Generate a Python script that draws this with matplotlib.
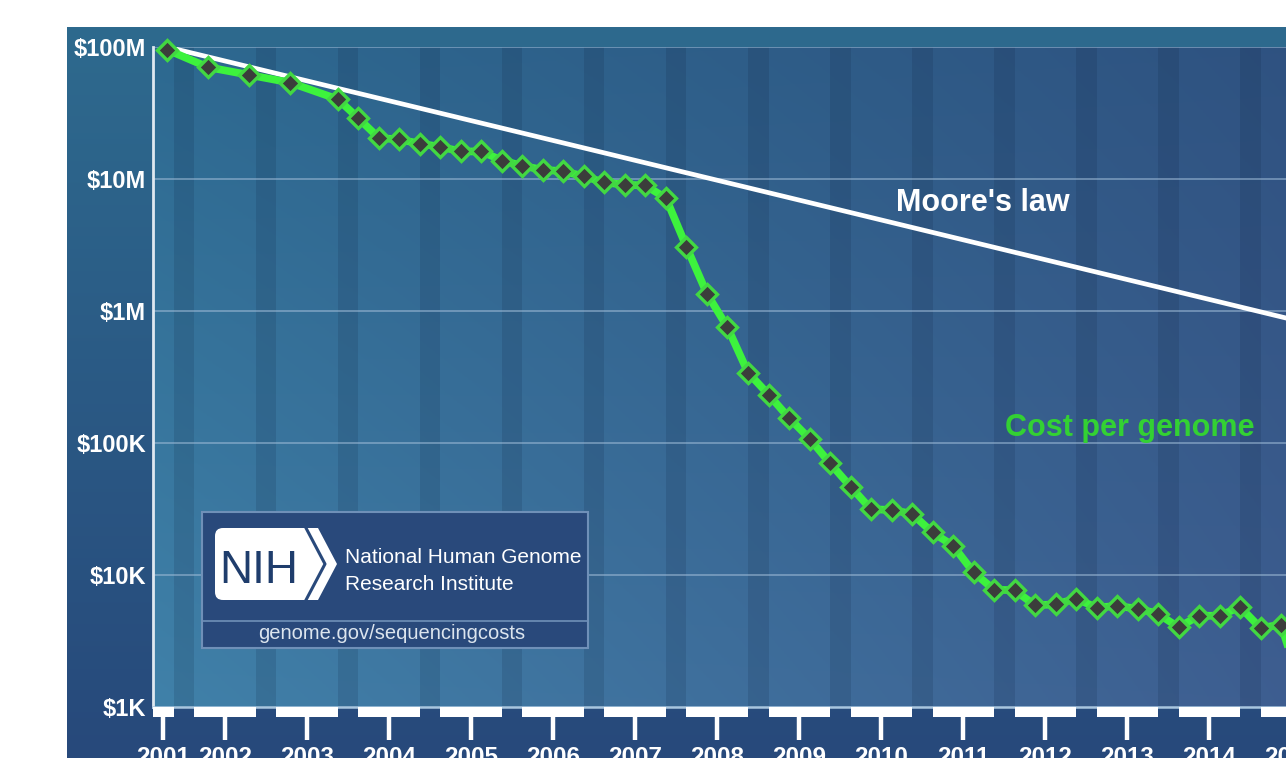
import numpy as np
import matplotlib.pyplot as plt
import matplotlib.transforms as mtransforms
from matplotlib.colors import to_rgb
from matplotlib.patches import Rectangle, Polygon, FancyBboxPatch
from matplotlib.ticker import NullLocator

plt.rcParams['font.family'] = ['Liberation Sans', 'DejaVu Sans']

W, H = 1286, 758

# cost per genome (USD), sampled Sep 2001 .. Oct 2015
dates = ['2001-09', '2002-03', '2002-09', '2003-03', '2003-10',
         '2004-01', '2004-04', '2004-07', '2004-10',
         '2005-01', '2005-04', '2005-07', '2005-10',
         '2006-01', '2006-04', '2006-07', '2006-10',
         '2007-01', '2007-04', '2007-07', '2007-10',
         '2008-01', '2008-04', '2008-07', '2008-10',
         '2009-01', '2009-04', '2009-07', '2009-10',
         '2010-01', '2010-04', '2010-07', '2010-10',
         '2011-01', '2011-04', '2011-07', '2011-10',
         '2012-01', '2012-04', '2012-07', '2012-10',
         '2013-01', '2013-04', '2013-07', '2013-10',
         '2014-01', '2014-04', '2014-07', '2014-10',
         '2015-01', '2015-04', '2015-07', '2015-10']
cost = [95.26e6, 70.18e6, 61.45e6, 53.75e6, 40.16e6,
        28.78e6, 20.44e6, 19.93e6, 18.52e6,
        17.53e6, 16.16e6, 16.18e6, 13.80e6,
        12.59e6, 11.73e6, 11.46e6, 10.47e6,
        9.41e6, 9.05e6, 8.93e6, 7.15e6,
        3.06e6, 1.35e6, 752e3, 342e3,
        233e3, 155e3, 108e3, 70.3e3,
        46.8e3, 31.5e3, 31.1e3, 29.1e3,
        21.0e3, 16.7e3, 10.5e3, 7.74e3,
        7.67e3, 5.90e3, 5.99e3, 6.62e3,
        5.67e3, 5.83e3, 5.55e3, 5.10e3,
        4.01e3, 4.92e3, 4.91e3, 5.73e3,
        3.97e3, 4.21e3, 1.36e3, 1.25e3]

# Moore's law reference line (end points)
moore_dates = ['2001-09', '2015-10']
moore_cost = [100e6, 0.76e6]

ytick_vals = [1e3, 1e4, 1e5, 1e6, 1e7, 1e8]
ytick_labels = ['$1K', '$10K', '$100K', '$1M', '$10M', '$100M']
years = list(range(2001, 2016))


def to_year(d):
    y, m = d.split('-')
    return int(y) + (int(m) - 1) / 12


x = [to_year(d) for d in dates]
moore_x = [to_year(d) for d in moore_dates]

fig = plt.figure(figsize=(W / 100, H / 100), dpi=100)
fig.patch.set_facecolor('white')


def rect(x0, y0, x1, y1):
    return [x0 / W, 1 - y1 / H, (x1 - x0) / W, (y1 - y0) / H]


# dark frame with a vertical gradient
frame = fig.add_axes(rect(67, 27, W, H))
frame.axis('off')
t = np.linspace(0, 1, 256)[:, None, None]
top, bot = np.array(to_rgb('#2e6a8e')), np.array(to_rgb('#27497b'))
frame.imshow(top * (1 - t) + bot * t, aspect='auto', extent=[0, 1, 0, 1])

# plot area: teal on the left, navy to the right, lighter at the bottom
x_left, x_right = 2001.494, 2016.006
area = rect(153, 47, 153 + 1190, 707)
grad = fig.add_axes(area)
grad.axis('off')
yy, xx = np.mgrid[0:1:200j, 0:1:400j]
xx, yy = xx[..., None], yy[..., None]
tl, tr = np.array(to_rgb('#2d6990')), np.array(to_rgb('#2f5180'))
bl, br = np.array(to_rgb('#4081a9')), np.array(to_rgb('#3e5c8f'))
img = tl * (1 - xx) * (1 - yy) + tr * xx * (1 - yy) + bl * (1 - xx) * yy + br * xx * yy
grad.imshow(img, aspect='auto', extent=[0, 1, 0, 1])

ax = fig.add_axes(area)
ax.patch.set_visible(False)
ax.set_yscale('log')
ax.set_xlim(x_left, x_right)
ax.set_ylim(1e3, 1e8)

# darker band over the last quarter of every year
for yr in years:
    ax.axvspan(yr + 0.75, yr + 1.0, color='#0b1d3a', alpha=0.14, lw=0, zorder=1)

for v in ytick_vals[1:]:
    ax.axhline(v, color='#9dbad6', lw=1.2, alpha=0.65, zorder=1.5)

ax.plot(moore_x, moore_cost, color='white', lw=3.4, zorder=3)
ax.plot(x, cost, color='#3df23d', lw=5.5, zorder=4, clip_on=False,
        marker='D', ms=10, mfc='#3b3d3b', mec='#42d842', mew=2.4)

for side in ['top', 'right']:
    ax.spines[side].set_visible(False)
ax.spines['left'].set_color('#dfe8f0')
ax.spines['left'].set_linewidth(2)
ax.spines['bottom'].set_color('#a9c6df')
ax.spines['bottom'].set_linewidth(1.8)

ax.yaxis.set_minor_locator(NullLocator())
ax.set_yticks(ytick_vals)
ax.set_yticklabels(ytick_labels)
ax.tick_params(axis='y', length=0, pad=5, labelcolor='white', labelsize=17)
for lbl in ax.get_yticklabels():
    lbl.set_fontweight('bold')

# white year bars under the axis, ticks in the middle of each bar
trans = mtransforms.blended_transform_factory(ax.transData, ax.transAxes)
bar_h = 10 / 660
tick_pos = []
for yr in years:
    s, e = max(yr, x_left), yr + 0.75
    ax.add_patch(Rectangle((s, -bar_h), e - s, bar_h, transform=trans,
                           color='white', lw=0, clip_on=False, zorder=5))
    mid = (s + e) / 2
    tick_pos.append(mid)
    ax.text(mid, (707 - 764) / 660, str(yr), transform=trans, ha='center',
            va='baseline', color='white', fontsize=17.5, fontweight='bold',
            clip_on=False)
ax.set_xticks(tick_pos)
ax.set_xticklabels([])
ax.tick_params(axis='x', length=24, width=3.2, color='white')

# overlay in pixel coordinates for labels and the logo box
ov = fig.add_axes([0, 0, 1, 1])
ov.set_xlim(0, W)
ov.set_ylim(H, 0)
ov.axis('off')

ov.text(983, 211, "Moore's law", color='white', fontsize=22,
        fontweight='bold', ha='center', va='baseline')
ov.text(1130, 436, 'Cost per genome', color='#33d133', fontsize=22,
        fontweight='bold', ha='center', va='baseline')

ov.add_patch(Rectangle((202, 512), 386, 136, facecolor='#29497b',
                       edgecolor='#6f90b8', lw=1.5))
ov.plot([202, 588], [621, 621], color='#6f90b8', lw=1.2)
ov.add_patch(FancyBboxPatch((215, 528), 95, 72,
                            boxstyle='round,pad=0,rounding_size=8',
                            facecolor='white', edgecolor='none'))
ov.add_patch(Polygon([(300, 528), (318, 528), (337, 564), (318, 600), (300, 600)],
                     closed=True, facecolor='white', edgecolor='none'))
ov.plot([306, 325, 306], [528, 564, 600], color='#29497b', lw=2.2)
ov.text(259, 583, 'NIH', color='#1f3d6c', fontsize=33, ha='center', va='baseline')
ov.text(345, 563, 'National Human Genome', color='white', fontsize=15, va='baseline')
ov.text(345, 590, 'Research Institute', color='white', fontsize=15, va='baseline')
ov.text(392, 639, 'genome.gov/sequencingcosts', color='#dce5ee', fontsize=14.5,
        ha='center', va='baseline')

fig.savefig('out.png', dpi=100)
